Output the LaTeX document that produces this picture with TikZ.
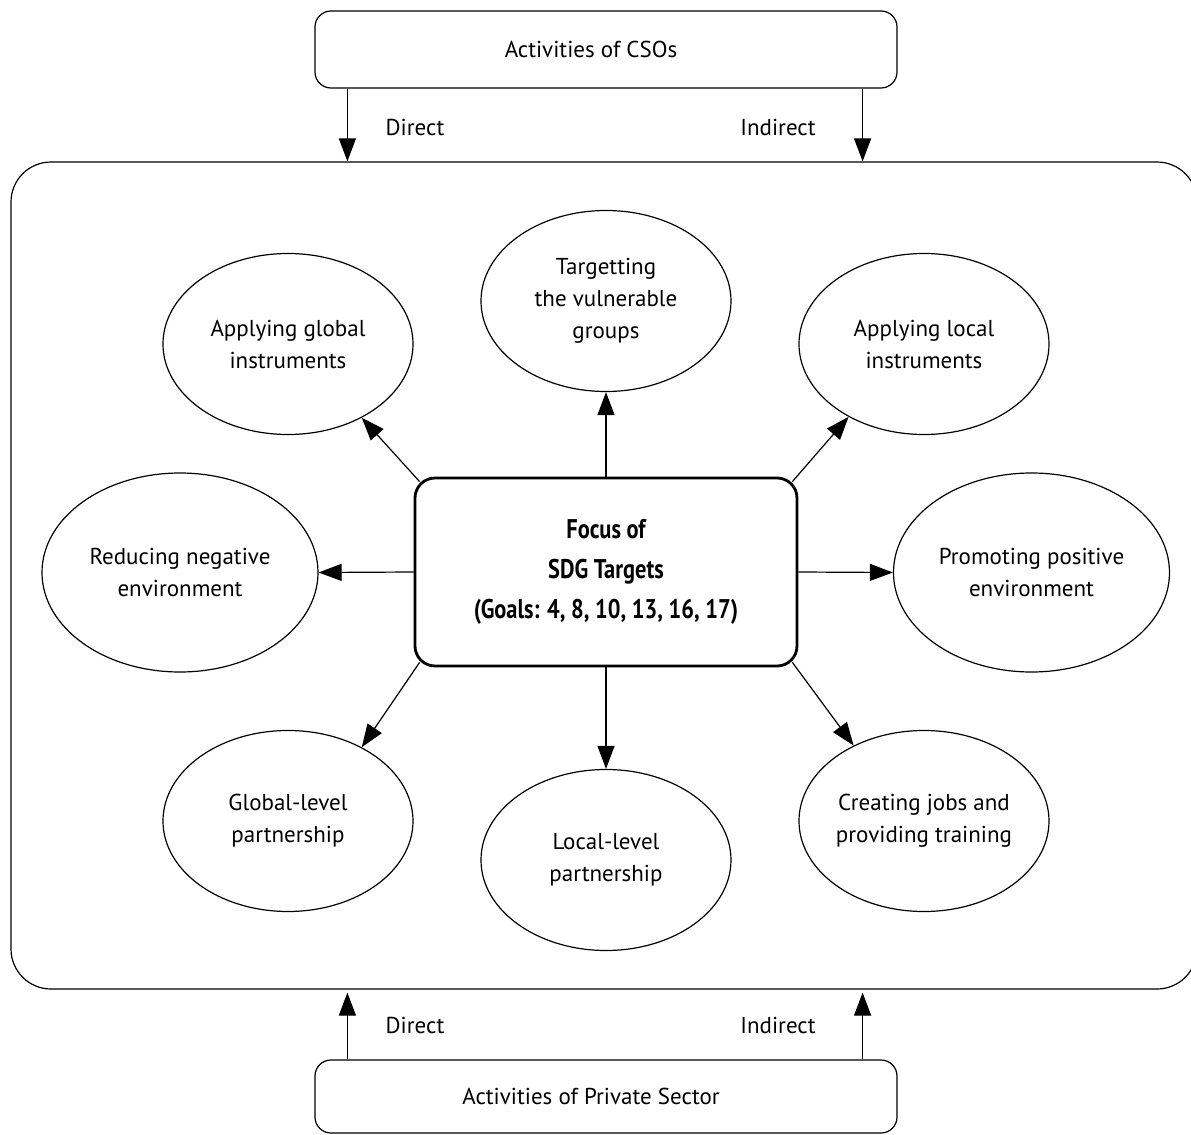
\documentclass[tikz,border=0pt]{standalone}
\usepackage{fontspec}
\setmainfont{PT Sans}
\newfontfamily\focusfont[FakeStretch=0.83]{PT Sans}
\usepackage{tikz}
\usetikzlibrary{arrows.meta}
\usetikzlibrary{shapes.geometric}
\usetikzlibrary{calc}
\usetikzlibrary{positioning}

\tikzset{
  goal/.style={ellipse, draw, line width=0.6pt, minimum width=125pt, minimum height=90.5pt, inner sep=0pt, align=center, font=\fontsize{11.5}{16}\selectfont},
  goalwide/.style={goal, minimum width=138pt, minimum height=99.5pt},
  actor/.style={rectangle, draw, rounded corners=8pt, line width=0.6pt, minimum width=291pt, minimum height=38.5pt, font=\fontsize{11.5}{13}\selectfont},
  focusbox/.style={rectangle, draw, rounded corners=10pt, line width=1.4pt, minimum width=191pt, minimum height=94pt, align=center, font=\focusfont\bfseries\fontsize{13.5}{20}\selectfont},
  frame/.style={rectangle, draw, rounded corners=20pt, line width=0.6pt, minimum width=593pt, minimum height=413.5pt},
  flow/.style={font=\fontsize{11.5}{13}\selectfont},
  arr/.style={-{Triangle[length=11.5pt,width=8.5pt]}, line width=0.6pt}
}

\begin{document}
\begin{tikzpicture}[x=0.5pt, y=-0.5pt]
        \useasboundingbox (0,0) rectangle (1191,1135);

        \node[frame] (frame) at (604,575.5) {};
        \node[actor] (act-cso) at (606,49.5) {Activities of CSOs\hspace*{15pt}};
        \node[actor, minimum height=36.5pt] (act-priv) at (606,1096.5) {Activities of Private Sector\hspace*{15pt}};

        \node[focusbox] (focus) at (606,572) {Focus of\\SDG Targets\\(Goals: 4, 8, 10, 13, 16, 17)};

        \node[goal] (goal-vuln) at (606,301) {Targetting\\the vulnerable\\groups};
        \node[goal] (goal-glob-inst) at (288,344) {Applying global\\instruments};
        \node[goal] (goal-loc-inst) at (924,344) {Applying local\\instruments};
        \node[goalwide] (goal-reduce) at (180,572.5) {Reducing negative\\environment};
        \node[goalwide] (goal-promote) at (1031.5,572.5) {Promoting positive\\environment};
        \node[goal] (goal-glob-part) at (288,821) {Global-level\\partnership};
        \node[goal] (goal-loc-part) at (606,860) {Local-level\\partnership};
        \node[goal] (goal-jobs) at (924,821) {Creating jobs and\\providing training};

        \node[flow] (cso-dir) at (415,127) {Direct};
        \node[flow] (cso-ind) at (778,127) {Indirect};
        \node[flow] (priv-dir) at (415,1025) {Direct};
        \node[flow] (priv-ind) at (778,1025) {Indirect};

        \coordinate (cso-l) at ([xshift=16.5pt]act-cso.south west);
        \coordinate (cso-r) at ([xshift=-17.5pt]act-cso.south east);
        \coordinate (priv-l) at ([xshift=16.5pt]act-priv.north west);
        \coordinate (priv-r) at ([xshift=-17.5pt]act-priv.north east);

        \draw[arr] (cso-l) -- (cso-l |- frame.north);
        \draw[arr] (cso-r) -- (cso-r |- frame.north);
        \draw[arr, shorten >=1.5pt] (priv-l) -- (priv-l |- frame.south);
        \draw[arr, shorten >=1.5pt] (priv-r) -- (priv-r |- frame.south);

        \draw[arr] (focus.north) -- (goal-vuln.south);
        \draw[arr] (focus.south) -- (goal-loc-part.north);
        \draw[arr] (focus.west) -- (goal-reduce.east);
        \draw[arr] (focus.east) -- (goal-promote.west);
        \draw[arr] ([shift={(3pt,-2.5pt)}]focus.north west) -- (goal-glob-inst.-45);
        \draw[arr] ([shift={(-3pt,-2.5pt)}]focus.north east) -- (goal-loc-inst.-136);
        \draw[arr] ([shift={(3pt,2.5pt)}]focus.south west) -- (goal-glob-part.45);
        \draw[arr] ([shift={(-3pt,2.5pt)}]focus.south east) -- (goal-jobs.133);
\end{tikzpicture}
\end{document}
